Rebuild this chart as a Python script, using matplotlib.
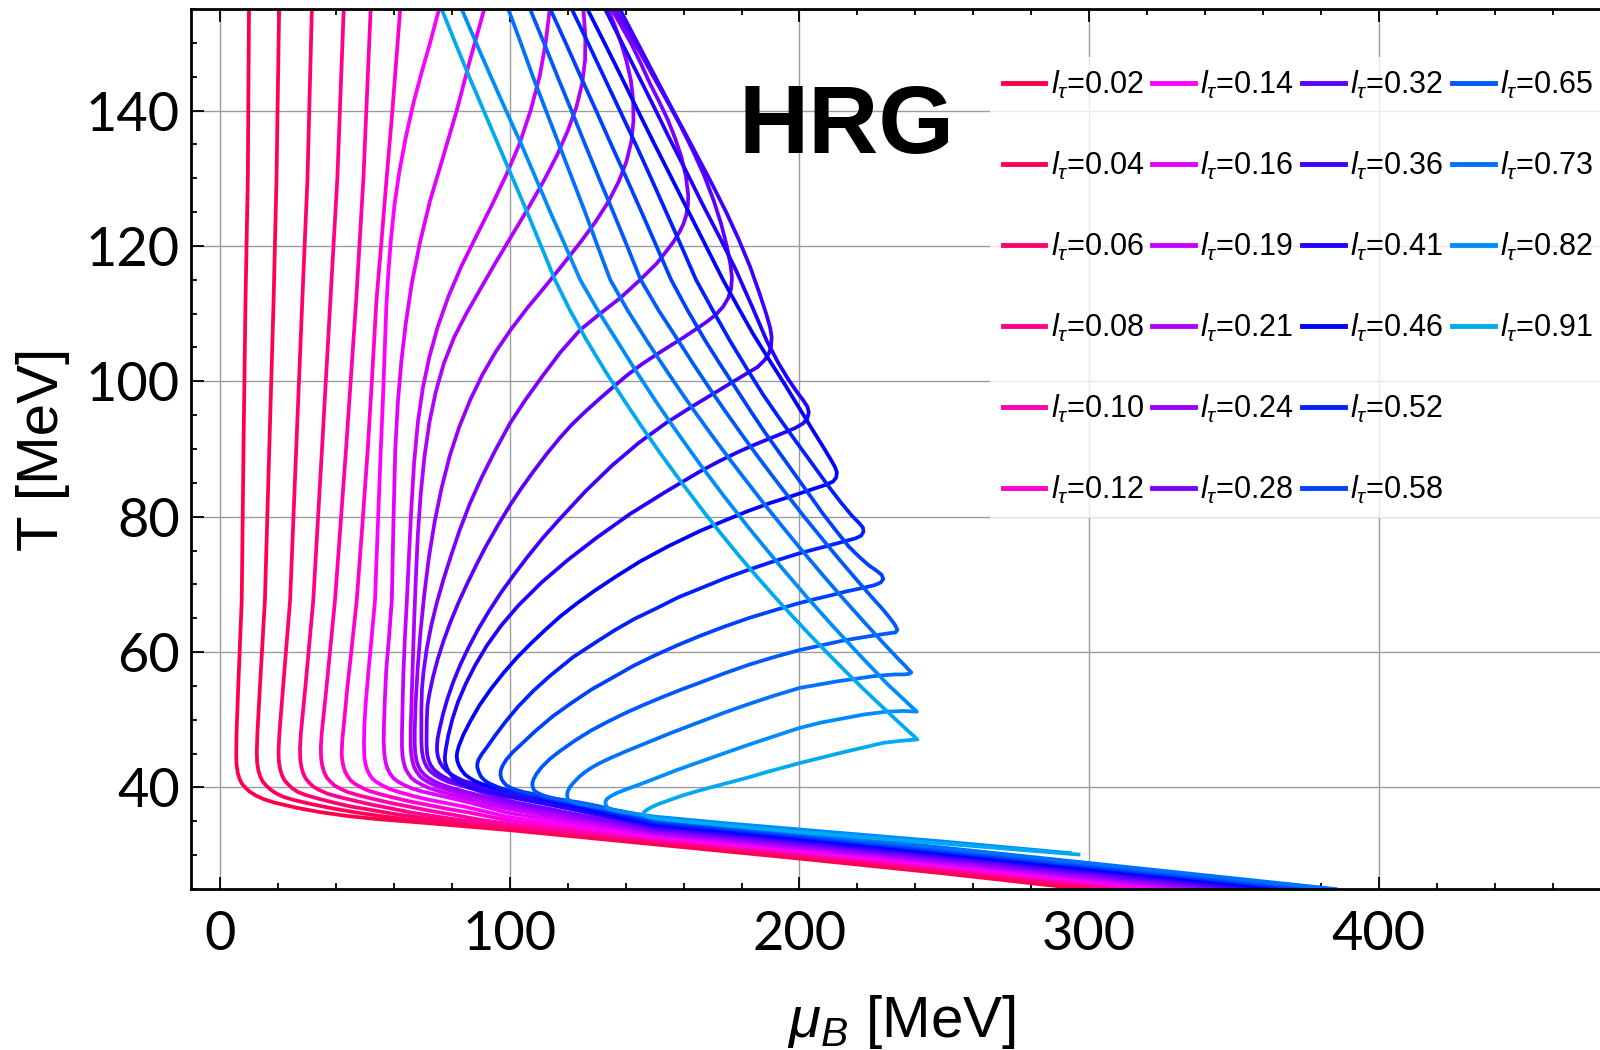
import matplotlib
matplotlib.use("Agg")
import matplotlib.pyplot as plt
from matplotlib.lines import Line2D
from matplotlib.ticker import MultipleLocator

plt.rcParams["font.family"] = ["Liberation Sans", "DejaVu Sans"]
plt.rcParams["mathtext.fontset"] = "custom"
plt.rcParams["mathtext.rm"] = "Liberation Sans"
plt.rcParams["mathtext.it"] = "Liberation Sans:italic"
plt.rcParams["mathtext.bf"] = "Liberation Sans:bold"

l_tau = [0.02, 0.04, 0.06, 0.08, 0.10, 0.12, 0.14, 0.16, 0.19, 0.21, 0.24,
         0.28, 0.32, 0.36, 0.41, 0.46, 0.52, 0.58, 0.65, 0.73, 0.82, 0.91]

line_colors = ["#ff0048", "#ff0058", "#ff006c", "#ff0088", "#ff00aa", "#ff00d0",
               "#ff00ff", "#e400ff", "#c800ff", "#b000ff", "#9600ff", "#7c00ff",
               "#5e00ff", "#4000ff", "#2000ff", "#0000ff", "#0020ff", "#0040ff",
               "#0058ff", "#0070ff", "#008cff", "#00aaf0"]

# trajectories as (mu_B, T) pairs in MeV, from T = 155 MeV downwards
c002 = [(10.0, 155), (9.6, 130), (8.8, 112), (8.1, 90), (7.5, 67.7), (6.3, 55), (5.7, 48), (5.6, 45),
        (5.7, 43.4), (6.1, 42.2), (6.7, 41.3), (7.5, 40.6), (8.7, 40.0), (10.2, 39.4), (12.4, 38.8),
        (15, 38.3), (18.5, 37.8), (22.5, 37.4), (26.5, 37.0), (34, 36.4), (43.7, 35.8), (55, 35.3),
        (70, 34.8), (100, 33.7), (150, 31.6), (200, 29.5), (250, 27.3), (298, 25)]
c004 = [(20.4, 155), (19.5, 130), (18.5, 112), (17.0, 90), (15.5, 67.7), (13.8, 55), (12.9, 48),
        (12.7, 45.3), (12.8, 43.7), (13.2, 42.6), (13.8, 41.7), (14.7, 40.9), (15.9, 40.3),
        (17.4, 39.7), (19.5, 39.1), (22, 38.6), (26, 38.1), (32, 37.5), (39, 36.9), (47, 36.3),
        (57, 35.7), (70, 35.0), (100, 33.9), (150, 31.8), (200, 29.7), (250, 27.5), (303, 25)]
c006 = [(31.7, 155), (30.2, 130), (28.4, 112), (26.3, 90), (24.2, 67.7), (21.8, 55), (20.5, 48),
        (20.2, 45.5), (20.3, 43.9), (20.7, 42.8), (21.3, 41.9), (22.2, 41.1), (23.4, 40.5),
        (24.9, 39.9), (27, 39.3), (29.5, 38.9), (33.5, 38.4), (39, 37.8), (45, 37.2), (52, 36.7),
        (60, 36.1), (70, 35.5), (100, 34.1), (150, 32.0), (200, 29.9), (250, 27.7), (307, 25)]
c008 = [(42.7, 155), (40.5, 130), (38.1, 112), (35.2, 90), (32.2, 67.7), (29.5, 55), (27.9, 48),
        (27.6, 45.7), (27.7, 44.1), (28.1, 43.0), (28.7, 42.1), (29.6, 41.3), (30.8, 40.7),
        (32.3, 40.1), (34.4, 39.6), (37, 39.1), (41, 38.6), (46, 38.1), (52, 37.5), (58, 37.0),
        (66, 36.3), (75, 35.7), (86, 35.0), (100, 34.3), (150, 32.2), (200, 30.1), (250, 27.9),
        (312, 25)]
c010 = [(52.0, 155), (49.5, 130), (47.0, 112), (43.5, 90), (39.7, 67.7), (36.8, 55), (35.1, 48),
        (34.8, 45.9), (34.9, 44.3), (35.3, 43.2), (35.9, 42.3), (36.8, 41.5), (38, 40.9),
        (39.5, 40.3), (41.6, 39.8), (44.2, 39.3), (48.2, 38.8), (53, 38.3), (59, 37.7), (65, 37.2),
        (72, 36.6), (80, 36.0), (89, 35.3), (100, 34.6), (150, 32.4), (200, 30.3), (250, 28.1),
        (316, 25)]
c012 = [(62.2, 155), (59.5, 140), (57.5, 130), (55.6, 120), (54, 112), (52.4, 100), (51, 90),
        (49, 78), (47.2, 67.7), (45.3, 60), (44, 55), (42.9, 50), (42.2, 47), (42.0, 45.2),
        (42.1, 44.3), (42.5, 43.3), (43.1, 42.4), (44, 41.7), (45.2, 41.0), (46.7, 40.5),
        (48.8, 40.0), (51.4, 39.5), (55.4, 39.0), (60, 38.5), (66, 37.9), (72, 37.4), (79, 36.8),
        (86, 36.3), (93, 35.7), (100, 35.1), (150, 32.6), (200, 30.5), (250, 28.3), (321, 25)]
c014 = [(75.6, 155), (72.5, 150), (69.5, 145.5), (66.7, 141), (64.1, 136), (61.9, 131), (60.2, 126),
        (59, 121), (58.1, 116), (57.4, 111), (56.8, 104), (56.2, 97), (55.5, 90), (54.5, 79),
        (53.5, 67.7), (52.3, 62), (51.2, 57), (50.3, 52.5), (49.8, 49), (49.7, 46.5), (49.8, 44.6),
        (50.2, 43.5), (50.8, 42.6), (51.6, 41.9), (52.8, 41.2), (54.4, 40.7), (56.5, 40.2),
        (59, 39.7), (62.8, 39.2), (67, 38.7), (72, 38.2), (78, 37.7), (84, 37.2), (90, 36.6),
        (100, 35.6), (150, 32.8), (200, 30.7), (250, 28.5), (326, 25)]
c016 = [(91.2, 155), (86.3, 147.5), (81.7, 140), (76.9, 133), (72.5, 126.7), (69, 120.5),
        (66.2, 114.5), (64.1, 108.5), (62.6, 103), (61.4, 97), (60.5, 90), (59.9, 80), (59.3, 67.7),
        (58.3, 62), (57.4, 57.5), (56.9, 53), (56.6, 49.5), (56.5, 46.8), (56.7, 45), (57.1, 43.8),
        (57.7, 42.9), (58.6, 42.1), (59.8, 41.4), (61.3, 40.9), (63.4, 40.4), (66, 39.9),
        (69.8, 39.4), (74, 39.0), (79, 38.5), (85, 37.9), (92, 37.1), (100, 36.2), (150, 33.0),
        (200, 30.9), (250, 28.7), (330, 25)]
c019 = [(113.8, 155), (112.4, 150), (110.3, 145), (107.2, 140), (103.3, 135), (98.8, 130.5),
        (93.8, 126), (88.5, 121.5), (83.3, 117), (78.8, 112.5), (75.1, 108), (72.2, 103.5),
        (70, 99), (68.3, 94), (67, 88), (66, 81), (65.2, 74), (64.5, 67.7), (63.8, 62), (63.3, 57),
        (63.0, 52), (62.8, 48), (62.8, 46), (63.0, 44.6), (63.4, 43.7), (64.0, 42.8), (64.9, 42.1),
        (66.1, 41.4), (67.6, 40.9), (69.7, 40.4), (72.3, 39.9), (76, 39.4), (80.2, 38.9),
        (86, 38.3), (92, 37.6), (100, 36.8), (150, 33.2), (200, 31.1), (250, 28.9), (335, 25)]
c021 = [(125.4, 155), (126.1, 151), (126.0, 147.5), (125.0, 144), (123.0, 140.5), (120.0, 137),
        (116.2, 133.3), (111.6, 129.5), (106.4, 125.6), (100.8, 121.6), (95.2, 117.6),
        (89.8, 113.6), (85.0, 110), (80.8, 106.5), (77.3, 102.7), (74.5, 98.5), (72.3, 94),
        (70.6, 89), (69.3, 83.5), (68.3, 77.5), (67.6, 71), (67.0, 64.5), (66.5, 58), (66.1, 52.5),
        (65.8, 48.5), (65.8, 46.3), (66.0, 44.9), (66.4, 43.9), (67.0, 43.0), (67.9, 42.3),
        (69.1, 41.6), (70.6, 41.1), (72.7, 40.6), (75.3, 40.1), (79, 39.6), (83.2, 39.1),
        (89, 38.5), (94, 37.9), (100, 37.3), (150, 33.4), (200, 31.3), (250, 29.1), (339, 25)]
c024 = [(134, 155), (136.3, 152.5), (138.4, 150), (140.3, 147.3), (141.8, 144.5), (142.6, 141.5),
        (142.7, 138.5), (142, 135.5), (140.3, 132.5), (137.6, 129.5), (134, 126.5), (129.5, 123.5),
        (124.3, 120.5), (118.4, 117.3), (112.2, 114), (106, 110.8), (100.3, 107.6), (95.2, 104.4),
        (90.6, 101), (86.4, 97.3), (82.6, 93.3), (79.3, 89), (76.5, 84.3), (74.1, 79.3),
        (72.1, 74), (70.5, 68.5), (69.2, 63), (68.2, 57.5), (67.5, 52.3), (67.2, 48.5),
        (67.2, 46.4), (67.4, 45.0), (67.8, 44.0), (68.4, 43.2), (69.3, 42.5), (70.5, 41.9),
        (72.0, 41.4), (74.0, 40.9), (76.6, 40.4), (80.2, 39.9), (84.5, 39.4), (90, 38.8),
        (95, 38.2), (100, 37.6), (150, 33.6), (200, 31.5), (250, 29.3), (344, 25)]
c028 = [(135.2, 155), (138.5, 152.5), (141.8, 150), (145.2, 147), (148.4, 144), (151.6, 141.3),
        (154.5, 138.7), (157, 136), (159.2, 133.2), (160.8, 130.3), (161.6, 127.5), (161.5, 126),
        (160.9, 124.5), (159.9, 123.2), (158.5, 122), (156.5, 120.6), (154, 119.2), (150.7, 117.4),
        (145, 115), (138.1, 112.3), (131.2, 110), (124.3, 107.6), (117.5, 104.3), (111, 100.6),
        (105.3, 97.2), (100.1, 93.8), (95, 89.8), (90.3, 85.8), (86.2, 81.9), (82.7, 78),
        (79.7, 74.2), (77.1, 70.7), (74.8, 67.25), (72.9, 63.9), (71.4, 60.6), (70.3, 57.3),
        (69.7, 54.6), (69.5, 51.5), (69.5, 48.5), (69.5, 46.8), (69.7, 45.4), (70.1, 44.4),
        (70.7, 43.6), (71.6, 42.9), (72.8, 42.3), (74.3, 41.8), (76.3, 41.3), (78.9, 40.8),
        (82.3, 40.4), (86.5, 39.9), (92, 39.1), (100, 38.0), (150, 33.8), (200, 31.7), (250, 29.5),
        (349, 25)]
c032 = [(136.5, 155), (140.8, 151.8), (145.1, 148.5), (149.6, 145), (154.2, 141.5), (158.9, 137.8),
        (163.3, 134), (167.2, 130.3), (170.4, 126.7), (173, 123.2), (174.9, 120), (176.2, 117.2),
        (176.7, 115.3), (176.4, 113.7), (175.4, 112.3), (173.6, 111), (171, 109.8), (167.7, 108.7),
        (163.9, 107.6), (159.7, 106.4), (155.2, 105.2), (150.4, 103.9), (145.5, 102.5),
        (140.5, 100.9), (136.9, 99.6), (131.2, 97.5), (126, 95.5), (121.4, 93.6), (117.4, 91.7),
        (112.8, 89.3), (108.2, 86.7), (104, 84.2), (100.1, 81.7), (96, 78.8), (92, 75.8),
        (88.6, 73.0), (85.3, 70.1), (82.3, 67.3), (79.5, 64.4), (77.1, 61.6), (75.1, 58.9),
        (73.5, 56.3), (72.3, 53.9), (71.6, 52.1), (71.35, 49.8), (71.3, 47.5), (71.3, 46.2),
        (71.5, 44.9), (72, 44.0), (72.7, 43.3), (73.7, 42.7), (75, 42.2), (76.7, 41.7),
        (78.9, 41.2), (81.7, 40.8), (85, 40.5), (88.2, 40.2), (95, 39.5), (150, 34.0), (200, 31.9),
        (250, 29.7), (353, 25)]
c036 = [(138, 155), (143.5, 150.5), (149, 146), (154.5, 141.5), (160, 137.1), (165.2, 132.9),
        (170, 129), (174.7, 125), (179, 121), (182.9, 117), (186.2, 113), (188.5, 110),
        (189.9, 107.9), (190.4, 106.5), (190.2, 105.2), (189.4, 104.1), (187.9, 103.1),
        (185.5, 102.1), (180, 100.7), (172.3, 98.7), (163, 96.3), (153.8, 93.8), (144.5, 90.9),
        (135.4, 87.6), (126, 83.7), (116.9, 79.5), (111.3, 76.8), (106, 74), (101.4, 71.4),
        (97, 68.8), (92.9, 66.1), (89, 63.3), (85.8, 60.7), (83, 58.2), (80.5, 55.6), (78.5, 53.1),
        (77, 50.9), (75.8, 48.7), (75.1, 47.2), (74.9, 46.2), (74.9, 45.4), (75.2, 44.6),
        (75.8, 43.8), (76.8, 43.1), (78.1, 42.5), (79.6, 42.0), (81.5, 41.5), (83.9, 41.0),
        (87, 40.6), (91.9, 40.1), (98, 39.4), (150, 34.2), (200, 32.1), (250, 29.9), (358, 25)]
c041 = [(132.9, 155), (138.5, 150.2), (144, 145.5), (149.5, 140.8), (155, 136), (160.8, 131.1),
        (166.5, 126.2), (172.3, 121.4), (178, 116.5), (183.5, 111.2), (188.7, 106), (192.6, 102.8),
        (196, 100.4), (199, 98.5), (201.3, 97.2), (202.8, 96.2), (203.2, 95.4), (202.7, 94.5),
        (201.3, 93.8), (198.5, 93.1), (194, 92.3), (190, 91.6), (184.3, 90.6), (178.5, 89.5),
        (172.3, 88.2), (165.7, 86.7), (153.5, 83.6), (141.5, 80.4), (130, 76.9), (120, 73.6),
        (111, 70.3), (103, 66.9), (97, 63.9), (92, 60.9), (88, 58.0), (84.8, 55.3), (82.2, 52.7),
        (80.2, 50.1), (78.8, 47.7), (77.9, 45.6), (77.6, 44.5), (77.7, 43.7), (78.2, 43),
        (79, 42.3), (80.2, 41.6), (81.8, 41.0), (83.7, 40.5), (86, 40.0), (89.6, 39.6),
        (94, 39.2), (100, 38.6), (150, 34.4), (200, 32.3), (250, 30.1), (362, 25)]
c046 = [(126.8, 155), (132.7, 150), (138.5, 145), (144.2, 140), (150, 135), (155.9, 130),
        (161.8, 125), (167.7, 120), (173.6, 115), (179, 110.8), (184, 107), (189.5, 103.2),
        (195, 99.5), (200, 96), (205, 92.5), (208.2, 90.3), (210.6, 88.6), (212.2, 87.4),
        (212.9, 86.6), (212.7, 85.8), (211.6, 85.2), (209, 84.7), (204, 84.0), (197, 83.0),
        (190, 82.05), (182, 80.8), (174, 79.4), (165.7, 77.9), (155, 75.7), (145, 73.4),
        (136.8, 71.2), (129.4, 69.1), (123.2, 67.2), (117.5, 65.3), (112.3, 63.3), (107.6, 61.4),
        (102.5, 59.2), (97.8, 56.9), (93.4, 54.5), (89.5, 52.1), (86.4, 49.8), (84.0, 47.8),
        (82.5, 46.2), (81.9, 45.3), (81.7, 44.6), (81.9, 43.9), (82.4, 43.3), (83.3, 42.6),
        (84.6, 41.9), (86.2, 41.4), (88.2, 40.9), (90.5, 40.5), (94, 40.1), (98, 39.7), (104, 39.1),
        (110, 38.5), (120, 37.5), (150, 34.6), (200, 32.5), (250, 30.3), (367, 25)]
c052 = [(121.4, 155), (127, 150), (132.5, 145), (138, 140), (143.5, 135), (148.8, 130), (154, 125),
        (159.2, 120), (164.3, 115), (170.2, 110.4), (176, 106), (181.8, 101.9), (187.5, 98),
        (193.3, 94.4), (199, 91), (204.6, 87.7), (210, 84.5), (214.5, 82), (218, 80.2),
        (220.5, 79.1), (221.9, 78.4), (222.1, 77.8), (221.3, 77.2), (219.3, 76.8), (215, 76.3),
        (208, 75.5), (200, 74.6), (191, 73.4), (182, 72.1), (173.7, 70.8), (165.7, 69.4),
        (158.2, 68.1), (150.3, 66.4), (143, 64.9), (136.5, 63.3), (130.6, 61.7), (122, 59.3),
        (113.9, 56.5), (108.2, 54.3), (103, 52.0), (98.7, 49.8), (95, 47.7), (92.2, 46.0),
        (90.3, 44.9), (89.2, 44.1), (88.8, 43.5), (88.8, 43.0), (89.3, 42.3), (90.1, 41.6),
        (91.2, 41.1), (92.5, 40.7), (94, 40.4), (96.2, 40), (99, 39.6), (104, 39.1), (110, 38.6),
        (117, 38), (125, 37.3), (137, 36.1), (150, 34.8), (200, 32.7), (250, 30.5), (372, 25)]
c058 = [(114, 155), (119.3, 150), (124.5, 145), (129.8, 140), (135, 135), (140.3, 130),
        (145.5, 125), (150.6, 120), (155.7, 115), (161.5, 110.4), (167.5, 106), (172.8, 102.4),
        (178, 99), (183, 95.7), (188, 92.5), (193, 89.5), (198, 86.5), (203, 83.5), (208, 80.5),
        (212.5, 78), (217, 75.6), (220.8, 74), (224, 72.8), (226.7, 72), (228.4, 71.4),
        (228.9, 70.8), (228.1, 70.3), (226, 69.9), (222, 69.5), (216, 68.95), (210, 68.3),
        (205, 67.8), (200, 67.25), (191.5, 66.2), (183, 65.1), (174.3, 63.8), (165.7, 62.4),
        (157.8, 61.0), (150, 59.5), (142.8, 58.0), (135.8, 56.3), (128.3, 54.5), (121, 52.4),
        (114.8, 50.5), (109, 48.4), (104.5, 46.6), (101, 45.2), (98.8, 44.1), (97.5, 43.2),
        (96.9, 42.5), (96.8, 41.9), (97.1, 41.3), (97.8, 40.8), (98.9, 40.3), (100.5, 39.9),
        (102.6, 39.6), (105, 39.3), (110, 38.9), (115, 38.4), (122, 37.8), (130, 37.1),
        (140, 36.1), (150, 35.1), (200, 32.9), (250, 30.7), (376, 25)]
c065 = [(107, 155), (111.8, 150), (116.5, 145), (121.3, 140), (126, 135), (130.8, 130),
        (135.7, 125), (140.5, 120), (145.2, 115), (151.5, 110.4), (158.2, 106), (163.6, 102.4),
        (168.9, 99), (174.2, 95.7), (179.5, 92.5), (185.1, 89.2), (190.7, 86), (196.3, 82.9),
        (202.0, 79.8), (208.1, 76.6), (214.1, 73.5), (220.1, 70.5), (225.0, 68.1), (228.8, 66.3),
        (231.3, 65), (233, 64), (233.8, 63.3), (233.1, 62.9), (231.2, 62.8), (228, 62.6),
        (222, 62.2), (215, 61.7), (207.5, 61), (200, 60.3), (191.5, 59.3), (183, 58.2),
        (174.3, 56.9), (165.7, 55.5), (158.8, 54.4), (152, 53.24), (146.2, 52.2), (140.4, 51.1),
        (134, 49.76), (128, 48.4), (122.4, 46.9), (117.4, 45.4), (113.8, 44.2), (111, 43.0),
        (109.2, 42.0), (108.2, 41.2), (107.8, 40.6), (107.9, 40.1), (108.4, 39.6), (109.2, 39.3),
        (110.6, 39.0), (112.5, 38.7), (115, 38.4), (118, 38.2), (124, 37.8), (130, 37.3),
        (140, 36.3), (150, 35.3), (200, 33.1), (250, 30.9), (381, 25)]
c073 = [(99.5, 155), (103.8, 150), (108, 145), (112.5, 140), (117, 135), (121.5, 130), (126, 125),
        (130.3, 120), (134.7, 115), (140.8, 110.4), (147.3, 106), (151.6, 103.2), (155.8, 100.5),
        (159.8, 98), (163.9, 95.5), (169.8, 92), (175.9, 88.5), (181.8, 85.2), (187.6, 82),
        (194.2, 78.5), (200.9, 75), (208.2, 71.3), (215.5, 67.7), (222.2, 64.5), (228.8, 61.4),
        (233.4, 59.3), (236.4, 58), (237.9, 57.3), (238.6, 57.0), (238.0, 56.8), (236, 56.7),
        (233, 56.7), (226.7, 56.5), (213.3, 55.7), (200, 54.7), (191.5, 53.6), (183, 52.4),
        (174.3, 51.1), (165.7, 49.7), (155.9, 48.1), (146.1, 46.4), (140.4, 45.4), (135, 44.4),
        (131.5, 43.7), (128.9, 43.1), (126, 42.3), (123.8, 41.5), (122, 40.7), (120.8, 40.1),
        (120.1, 39.5), (119.8, 39.0), (119.9, 38.5), (120.4, 38.1), (121.4, 37.85), (123, 37.65),
        (126, 37.4), (130, 37.1), (140, 36.4), (150, 35.5), (200, 33.3), (250, 31.1), (385, 25)]
c082 = [(83.4, 155), (88.4, 150), (93.5, 145), (98.7, 140), (104, 135), (109, 130), (114, 125),
        (119.2, 120), (124.3, 115), (130.5, 110.4), (137, 106), (143.6, 101.5), (150.5, 97),
        (157.9, 92.4), (165.4, 87.9), (174.0, 83), (182.6, 78.3), (192.2, 73.3), (202.4, 68.2),
        (211.6, 63.8), (220.7, 59.6), (230.3, 55.3), (240.5, 51.2), (236, 51.3), (230, 51.2),
        (222.5, 50.8), (215, 50.2), (207.5, 49.6), (200, 48.8), (191.5, 47.6), (183, 46.4),
        (174.3, 45.1), (165.7, 43.8), (157.8, 42.6), (150, 41.3), (144.5, 40.4), (140, 39.7),
        (137, 39.2), (134.8, 38.7), (133.5, 38.3), (133, 37.9), (133.1, 37.5), (133.6, 37.1),
        (134.6, 36.8), (136, 36.6), (138.5, 36.4), (142, 36.2), (150, 35.7), (175, 34.7),
        (200, 33.8), (250, 32.0), (293.4, 30.3)]
c091 = [(76.5, 155), (81.2, 150), (86, 145), (91, 140), (96, 135), (101, 130), (106, 125),
        (110.8, 120), (115.6, 115), (120.8, 110.5), (126.5, 106.1), (132.7, 101.7), (139.0, 97.5),
        (145.4, 93.4), (151.9, 89.4), (159.4, 85), (167.0, 80.7), (172.9, 77.5), (179.0, 74.3),
        (185.4, 71.1), (191.8, 68), (197.8, 65.2), (203.7, 62.5), (209.8, 59.8), (215.8, 57.2),
        (222.2, 54.5), (228.6, 51.9), (234.6, 49.5), (240.7, 47.1), (235, 46.9), (229, 46.6),
        (222, 45.9), (215, 45.2), (207.5, 44.4), (200, 43.6), (194, 42.9), (188, 42.2),
        (182.5, 41.5), (177.2, 40.9), (171, 40.2), (165, 39.5), (159.5, 38.8), (154.2, 38),
        (151, 37.5), (148.5, 37), (147, 36.6), (146.2, 36.3), (146.3, 36), (147, 35.8),
        (148.2, 35.6), (150, 35.5), (152, 35.35), (160, 35.0), (170, 34.6), (185, 34.0),
        (200, 33.4), (250, 31.7), (296.3, 30.1)]

curves = [c002, c004, c006, c008, c010, c012, c014, c016, c019, c021, c024,
          c028, c032, c036, c041, c046, c052, c058, c065, c073, c082, c091]

fig = plt.figure(figsize=(16, 10.5), dpi=100)
ax = fig.add_axes([0.1194, 0.1533, 0.8873, 0.8381])

for pts, lt, col in zip(curves, l_tau, line_colors):
    mu, temp = zip(*pts)
    ax.plot(mu, temp, color=col, lw=2.7, solid_joinstyle="round",
            label=rf"$l_\tau$={lt:.2f}")

ax.set_xlim(-10, 480)
ax.set_ylim(25, 155)
ax.xaxis.set_major_locator(MultipleLocator(100))
ax.xaxis.set_minor_locator(MultipleLocator(20))
ax.yaxis.set_major_locator(MultipleLocator(20))
ax.yaxis.set_minor_locator(MultipleLocator(5))

ax.grid(True, which="major", color="#9c9c9c", lw=1.0)
ax.set_axisbelow(True)

ax.spines["right"].set_visible(False)
for side in ("left", "bottom", "top"):
    ax.spines[side].set_linewidth(2.0)

ax.tick_params(which="both", direction="in", top=True, right=False, width=1.3)
ax.tick_params(which="major", length=9)
ax.tick_params(which="minor", length=4.5)
ax.tick_params(axis="x", which="major", pad=15)
ax.tick_params(axis="y", which="major", pad=8)
for lab in ax.get_xticklabels() + ax.get_yticklabels():
    lab.set_fontfamily("Lato")
    lab.set_fontsize(39)

ax.set_xlabel(r"$\mu_B$ [MeV]", fontsize=42, va="center")
ax.xaxis.set_label_coords(0.5, -0.151)
ax.set_ylabel("T [MeV]", fontsize=42, va="center")
ax.yaxis.set_label_coords(-0.104, 0.5)

ax.text(216.4, 133.7, "HRG", fontsize=70, fontweight="bold", ha="center", va="baseline")

# two empty slots so the last column holds only four entries
handles, labels = ax.get_legend_handles_labels()
for _ in range(2):
    handles.append(Line2D([], [], color="none"))
    labels.append("")
leg = ax.legend(handles, labels, ncol=4, loc="upper left",
                bbox_to_anchor=(0.619, 0.946), bbox_transform=fig.transFigure,
                fontsize=22, frameon=True, framealpha=0.8, edgecolor="none",
                fancybox=False, borderpad=0.4, handlelength=1.4, handletextpad=0.17,
                labelspacing=1.60, columnspacing=0.26, borderaxespad=0)
for line in leg.get_lines():
    line.set_linewidth(3.5)

fig.savefig("out.png", dpi=100)
